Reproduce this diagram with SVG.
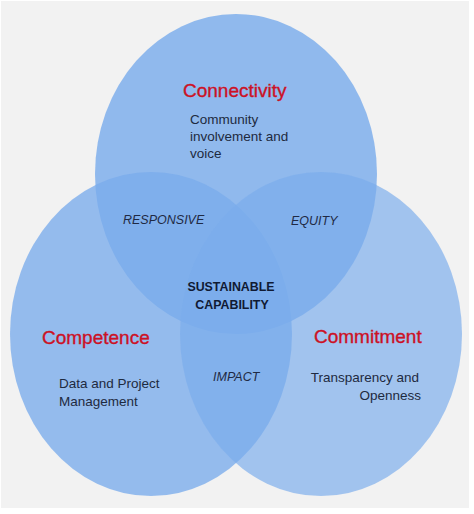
<svg xmlns="http://www.w3.org/2000/svg" width="474" height="514" viewBox="0 0 474 514">
  <style>
    .circ { fill: #7aacec; }
    .title { font-family: "Liberation Sans", Arial, sans-serif; font-size: 19px; fill: #cc1125; stroke: #cc1125; stroke-width: 0.35px; }
    .body { font-family: "Liberation Sans", Arial, sans-serif; font-size: 13.5px; fill: #1e2a40; }
    .ital { font-family: "Liberation Sans", Arial, sans-serif; font-size: 12.5px; font-style: italic; fill: #1f2a44; }
    .core { font-family: "Liberation Sans", Arial, sans-serif; font-size: 12.4px; font-weight: bold; fill: #101a33; text-anchor: middle; }
  </style>
  <rect x="0" y="0" width="474" height="514" fill="#ffffff"/>
  <rect x="1" y="1" width="468" height="507" fill="#f2f2f2"/>

  <g id="connectivity">
    <ellipse class="circ" cx="236" cy="174" rx="141" ry="160" fill-opacity="0.82"/>
    <text class="title" x="183" y="97">Connectivity</text>
    <text class="body" x="190" y="124">Community</text>
    <text class="body" x="190" y="141">involvement and</text>
    <text class="body" x="190" y="158">voice</text>
  </g>

  <g id="competence">
    <ellipse class="circ" cx="151" cy="334" rx="141" ry="162" fill-opacity="0.78"/>
    <text class="title" x="42" y="344">Competence</text>
    <text class="body" x="59" y="388">Data and Project</text>
    <text class="body" x="59" y="406">Management</text>
  </g>

  <g id="commitment">
    <ellipse class="circ" cx="321" cy="334" rx="141" ry="162" fill-opacity="0.68"/>
    <text class="title" x="314" y="343">Commitment</text>
    <text class="body" x="419" y="382" text-anchor="end">Transparency and</text>
    <text class="body" x="421" y="400" text-anchor="end">Openness</text>
  </g>

  <g id="responsive">
    <text class="ital" x="123" y="224">RESPONSIVE</text>
  </g>
  <g id="equity">
    <text class="ital" x="291" y="225">EQUITY</text>
  </g>
  <g id="impact">
    <text class="ital" x="213" y="381" fill="#2f3a55">IMPACT</text>
  </g>
  <g id="sustainable-capability">
    <text class="core" x="231" y="291">SUSTAINABLE</text>
    <text class="core" x="232" y="309">CAPABILITY</text>
  </g>
</svg>
